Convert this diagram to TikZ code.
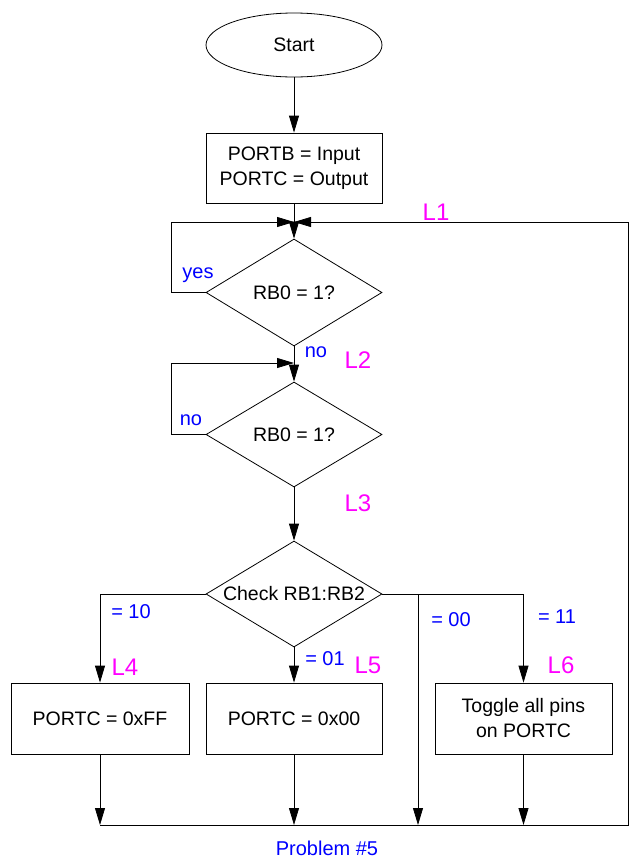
\documentclass[tikz,border=0pt]{standalone}
\usepackage{fontspec}
\setmainfont{Liberation Sans}
\usetikzlibrary{shapes.geometric,arrows.meta}
\definecolor{lblue}{RGB}{0,0,255}
\definecolor{lmag}{RGB}{255,0,255}
\begin{document}
\begin{tikzpicture}[x=1pt,y=-1pt, font=\fontsize{19.5}{25}\selectfont, line width=0.8pt,
  arr/.style={-{Triangle[length=17pt,width=10pt]}},
  proc/.style={draw, rectangle, minimum width=176pt, minimum height=71pt, inner sep=0pt, align=center},
  dec/.style={draw, diamond, minimum width=176pt, minimum height=107pt, inner sep=0pt},
  lab/.style={text=lblue, inner sep=0pt, font=\fontsize{20}{24}\selectfont},
  tag/.style={text=lmag, inner sep=0pt, font=\fontsize{24}{28}\selectfont}]
\useasboundingbox (0,0) rectangle (629,860);
% nodes
\node[draw, ellipse, minimum width=176pt, minimum height=64pt, inner sep=0pt] (start) at (294,45) {Start};
\node[proc, minimum height=70pt] (init) at (294,168) {PORTB = Input\\PORTC = Output};
\coordinate (j1) at (294,222);
\coordinate (l1) at (171,222);
\node[dec] (d1) at (294,292.5) {};
\node (d1t) at (d1) {RB0 = 1?};
\coordinate (j2) at (294,363);
\coordinate (l2) at (171,363);
\node[dec, minimum height=105pt] (d2) at (294,434.5) {};
\node (d2t) at (d2) {RB0 = 1?};
\node[dec, minimum height=106pt] (d3) at (294,594) {};
\node (d3t) at (d3) {Check RB1:RB2};
\node[proc, minimum width=178pt] (p4) at (100,718.5) {PORTC = 0xFF};
\node[proc] (p5) at (294,718.5) {PORTC = 0x00};
\node[proc, minimum width=177pt] (p6) at (523.5,718.5) {Toggle all pins\\on PORTC};
\coordinate (k) at (418,594);
\coordinate (b1) at (100,825);
\coordinate (b2) at (294,825);
\coordinate (b3) at (418,825);
\coordinate (b4) at (523.5,825);
\coordinate (bR) at (628,825);
\coordinate (tR) at (628,222);
% connectors
\draw[arr] (start) -- (init);
\draw (init) -- (j1);
\draw[arr] (j1) -- (d1);
\draw[arr] (d1.west) -| (l1) -- (j1);
\draw[arr] (b1) -- (bR) -- (tR) -- (j1);
\draw[arr] (d1) -- (d2);
\draw[arr] (d2.west) -| (l2) -- (j2);
\draw[arr] (d2) -- (d3);
\draw[arr] (d3.west) -| (p4.north);
\draw[arr] (d3) -- (p5);
\draw[arr] (d3.east) -| (p6.north);
\draw[arr] (k) -- (b3);
\draw[arr] (p4) -- (b1);
\draw[arr] (p5) -- (b2);
\draw[arr] (p6) -- (b4);
% labels
\node[lab] (yes1) at (198,275) {yes};
\node[lab] (no1) at (316,352) {no};
\node[lab] (no2) at (191,420) {no};
\node[lab] (e10) at (131,612) {= 10};
\node[lab] (e00) at (451,620) {= 00};
\node[lab] (e11) at (557,617) {= 11};
\node[lab] (e01) at (325,659) {= 01};
\node[lab] (prob) at (327,848) {Problem \#5};
\node[tag] (L1) at (436,212) {L1};
\node[tag] (L2) at (358,360) {L2};
\node[tag] (L3) at (358,503) {L3};
\node[tag] (L4) at (125,667) {L4};
\node[tag] (L5) at (368,665) {L5};
\node[tag] (L6) at (561,665) {L6};
\end{tikzpicture}
\end{document}
